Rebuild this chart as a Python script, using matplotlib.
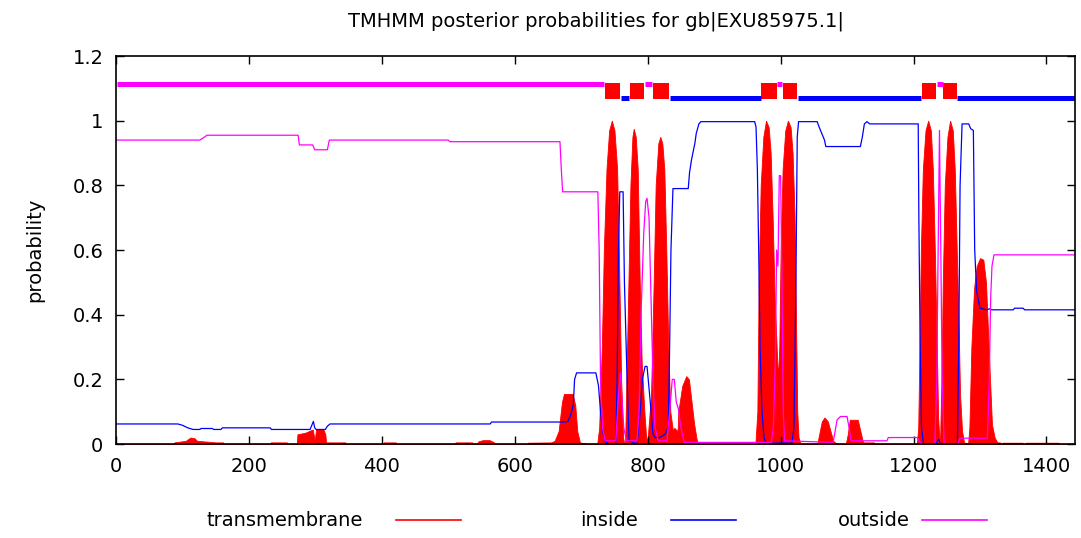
import matplotlib
matplotlib.use("Agg")
import matplotlib.pyplot as plt
from matplotlib.lines import Line2D

plt.rcParams['font.family'] = ['DejaVu Sans']

seq_len = 1443
title = "TMHMM posterior probabilities for gb|EXU85975.1|"

# transmembrane posterior
tm_pos = [0, 86, 88, 105, 112, 118, 122, 150, 161, 162,
          232, 233, 257, 258,
          272, 273, 285, 296, 299, 301, 312, 315, 316, 345, 346,
          402, 403, 421, 422,
          510, 511, 536, 537,
          543, 545, 552, 562, 569, 570,
          619, 620, 655, 660, 666, 671, 674, 687, 691, 694, 698, 710,
          724, 727, 731, 734, 738, 742, 746, 750, 754, 757, 760, 763, 765,
          766, 768, 771, 774, 777, 779, 782, 785, 788, 791, 795, 798,
          800, 805, 809, 812, 816, 819, 822, 825, 828, 831, 834, 838,
          840, 845, 846, 852, 858, 862, 866, 870, 874, 878,
          962, 965, 967, 970, 974, 978, 982, 985, 988, 991, 994, 996,
          998, 1000, 1003, 1007, 1011, 1015, 1018, 1021, 1023, 1025, 1027, 1030,
          1055, 1058, 1062, 1066, 1071, 1075, 1079, 1082, 1085,
          1098, 1101, 1104, 1116, 1120, 1124, 1140, 1142,
          1205, 1207, 1209, 1211, 1214, 1218, 1222, 1226, 1229, 1232, 1235, 1237, 1239,
          1240, 1242, 1244, 1247, 1251, 1255, 1259, 1262, 1265, 1268, 1270, 1273, 1276,
          1282, 1284, 1287, 1291, 1295, 1300, 1305, 1309, 1312, 1315, 1318, 1322, 1326, 1330, 1331,
          1333, 1334, 1364, 1365, 1368, 1369, 1418, 1419, 1443]
tm_val = [0, 0, 0.005, 0.01, 0.02, 0.018, 0.01, 0.005, 0.005, 0,
          0, 0.005, 0.005, 0,
          0, 0.03, 0.035, 0.045, 0.01, 0.045, 0.045, 0.03, 0.005, 0.005, 0,
          0, 0.005, 0.005, 0,
          0, 0.005, 0.005, 0,
          0, 0.008, 0.012, 0.012, 0.005, 0,
          0, 0.004, 0.005, 0.01, 0.04, 0.13, 0.155, 0.155, 0.12, 0.04, 0.005, 0,
          0, 0.05, 0.3, 0.6, 0.85, 0.97, 1.0, 0.97, 0.85, 0.55, 0.2, 0.02, 0.0,
          0, 0.2, 0.5, 0.8, 0.95, 0.975, 0.95, 0.85, 0.5, 0.25, 0.1, 0.01,
          0.02, 0.15, 0.5, 0.8, 0.93, 0.95, 0.93, 0.85, 0.6, 0.3, 0.1, 0.04,
          0.05, 0.04, 0.1, 0.18, 0.21, 0.2, 0.13, 0.06, 0.01, 0,
          0, 0.1, 0.5, 0.8, 0.95, 1.0, 0.98, 0.9, 0.7, 0.45, 0.3, 0.2,
          0.3, 0.6, 0.85, 0.97, 1.0, 0.98, 0.9, 0.7, 0.4, 0.1, 0.02, 0,
          0, 0.03, 0.07, 0.082, 0.07, 0.04, 0.01, 0.005, 0,
          0, 0.03, 0.075, 0.075, 0.04, 0.005, 0.005, 0,
          0, 0.05, 0.3, 0.6, 0.85, 0.97, 1.0, 0.97, 0.85, 0.6, 0.3, 0.08, 0.01,
          0.02, 0.2, 0.5, 0.8, 0.95, 1.0, 0.97, 0.85, 0.6, 0.35, 0.15, 0.04, 0.005,
          0, 0.05, 0.3, 0.48, 0.55, 0.575, 0.57, 0.5, 0.35, 0.2, 0.06, 0.02, 0.005, 0.005, 0,
          0, 0.004, 0.004, 0, 0, 0.004, 0.004, 0, 0]

# inside posterior
in_pos = [1, 93, 100, 108, 116, 126, 128, 145, 147, 158, 160, 232, 234, 292, 295, 297, 299, 301,
          315, 318, 322, 563, 565, 675, 680, 684, 688, 690, 693, 722, 726, 729, 732, 736, 740,
          752, 754, 756, 758, 763, 765, 769, 772, 784, 788, 792, 796, 799, 803, 808, 811,
          818, 826, 831, 833, 835, 838, 861, 863, 866, 868, 871, 873, 877, 880, 961, 963, 965,
          967, 969, 972, 975, 978, 1017, 1020, 1023, 1025, 1027, 1055, 1058, 1062, 1066, 1068,
          1120, 1123, 1126, 1130, 1134, 1207, 1208, 1210, 1212, 1215, 1233, 1236, 1238, 1240,
          1266, 1268, 1270, 1273, 1283, 1286, 1290, 1292, 1295, 1300, 1310, 1314, 1318, 1350,
          1352, 1365, 1367, 1443]
in_val = [0.062, 0.062, 0.058, 0.05, 0.045, 0.045, 0.048, 0.048, 0.045, 0.045, 0.05, 0.05, 0.045,
          0.045, 0.06, 0.07, 0.05, 0.045, 0.045, 0.055, 0.062, 0.062, 0.068, 0.068, 0.07, 0.09,
          0.12, 0.2, 0.22, 0.22, 0.18, 0.1, 0.04, 0.01, 0.0, 0.0, 0.2, 0.6, 0.78, 0.78, 0.5,
          0.2, 0.01, 0.0, 0.08, 0.2, 0.24, 0.24, 0.15, 0.03, 0.02, 0.02, 0.03, 0.05, 0.3, 0.6,
          0.79, 0.79, 0.84, 0.88, 0.9, 0.93, 0.96, 0.99, 0.997, 0.997, 0.98, 0.85, 0.6, 0.3,
          0.1, 0.02, 0.003, 0.003, 0.05, 0.5, 0.95, 0.997, 0.997, 0.98, 0.96, 0.94, 0.92, 0.92,
          0.95, 0.99, 0.997, 0.99, 0.99, 0.7, 0.3, 0.05, 0.0, 0.0, 0.01, 0.015, 0.0, 0.0, 0.3,
          0.8, 0.99, 0.99, 0.975, 0.97, 0.6, 0.47, 0.42, 0.415, 0.418, 0.415, 0.415, 0.42, 0.42,
          0.415, 0.415]

# outside posterior
out_pos = [1, 126, 130, 137, 274, 276, 296, 299, 318, 321, 500, 502, 668, 670, 672, 725, 727,
           729, 732, 736, 752, 756, 759, 761, 764, 768, 784, 787, 790, 794, 797, 799, 802, 805,
           808, 811, 816, 829, 833, 837, 840, 843, 846, 850, 855, 986, 989, 992, 994, 996, 998,
           1000, 1002, 1004, 1006, 1079, 1082, 1085, 1090, 1100, 1103, 1106, 1160, 1162, 1206,
           1208, 1212, 1232, 1235, 1237, 1239, 1241, 1243, 1246, 1266, 1270, 1311, 1314, 1316,
           1318, 1321, 1443]
out_val = [0.94, 0.94, 0.945, 0.955, 0.955, 0.925, 0.925, 0.91, 0.91, 0.94, 0.94, 0.935, 0.935,
           0.85, 0.78, 0.78, 0.6, 0.2, 0.05, 0.01, 0.01, 0.15, 0.22, 0.15, 0.05, 0.01, 0.01, 0.1,
           0.4, 0.65, 0.75, 0.76, 0.7, 0.45, 0.2, 0.05, 0.01, 0.01, 0.1, 0.2, 0.2, 0.13, 0.11,
           0.05, 0.005, 0.005, 0.05, 0.25, 0.6, 0.55, 0.83, 0.83, 0.5, 0.1, 0.01, 0.005, 0.04,
           0.075, 0.085, 0.085, 0.05, 0.01, 0.01, 0.02, 0.02, 0.01, 0.0, 0.0, 0.2, 0.6, 0.97,
           0.6, 0.2, 0.0, 0.0, 0.018, 0.018, 0.2, 0.45, 0.55, 0.585, 0.585]

# predicted topology (start, end)
outside_segs = [(1, 735), (796, 807), (995, 1002), (1235, 1244)]
inside_segs = [(760, 772), (833, 970), (1026, 1211), (1266, 1443)]
tm_segs = [(736, 759), (773, 795), (808, 832), (971, 994), (1003, 1025), (1212, 1234), (1245, 1265)]

fig = plt.figure(figsize=(10.81, 5.38), dpi=100)
ax = fig.add_axes([0.1073, 0.1747, 0.8872, 0.7212])

ax.fill_between(tm_pos, 0, tm_val, color='#ff0000', lw=0.6, edgecolor='#ff0000')
ax.plot(in_pos, in_val, color='#0000ff', lw=0.9)
ax.plot(out_pos, out_val, color='#ff00ff', lw=0.9)

for s, e in inside_segs:
    ax.plot([s, e], [1.069, 1.069], color='#0000ff', lw=3.6, solid_capstyle='butt')
for s, e in outside_segs:
    ax.plot([s, e], [1.112, 1.112], color='#ff00ff', lw=3.6, solid_capstyle='butt')
for s, e in tm_segs:
    ax.fill_between([s, e], 1.067, 1.117, color='#ff0000', lw=0)

ax.set_xlim(0, seq_len)
ax.set_ylim(0, 1.2)
ax.set_xticks([0, 200, 400, 600, 800, 1000, 1200, 1400])
ax.set_yticks([0, 0.2, 0.4, 0.6, 0.8, 1.0, 1.2])
ax.set_yticklabels(["0", "0.2", "0.4", "0.6", "0.8", "1", "1.2"])
ax.tick_params(direction='in', top=True, right=True, length=6, width=1,
               labelsize=14, pad=9, colors='black')
for sp in ax.spines.values():
    sp.set_linewidth(1.2)

ax.set_title(title, fontsize=14, pad=21)
ax.set_ylabel("probability", fontsize=14, labelpad=20)

# legend along the bottom
legend_items = [("transmembrane", '#ff0000', 0.191, 0.366),
                ("inside", '#0000ff', 0.537, 0.621),
                ("outside", '#ff00ff', 0.775, 0.853)]
for label, col, tx, lx in legend_items:
    fig.text(tx, 0.033, label, fontsize=14, va='center', ha='left')
    fig.add_artist(Line2D([lx, lx + 0.06], [0.033, 0.033], color=col, lw=1.2))

fig.savefig("out.png", dpi=100)
